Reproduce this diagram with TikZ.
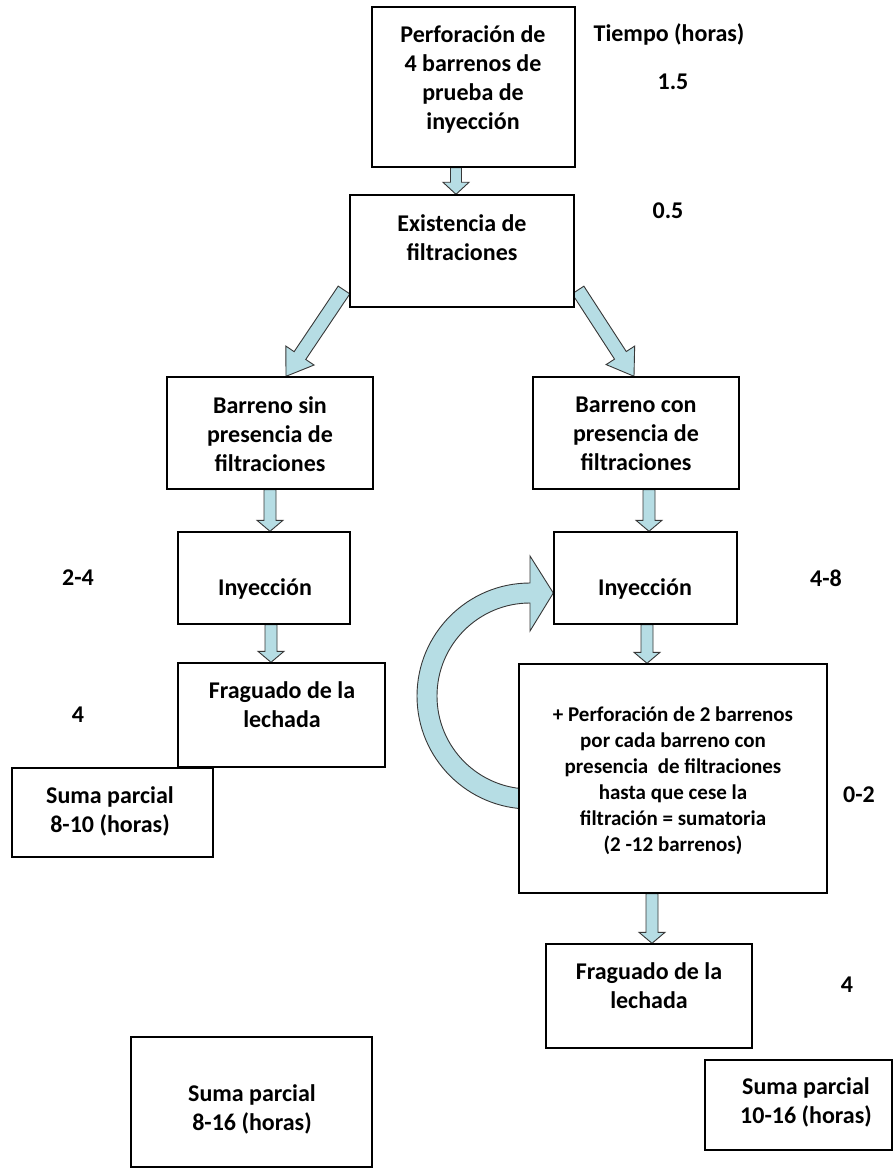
\documentclass[tikz,border=0pt]{standalone}
\usepackage{fontspec}
\setmainfont{Carlito}
\usetikzlibrary{calc}
\pgfdeclarelayer{bgzero}
\pgfdeclarelayer{back}
\pgfsetlayers{bgzero,back,main}
\definecolor{arrowfill}{RGB}{182,221,228}
\definecolor{arrowline}{RGB}{55,55,55}
\tikzset{
  box/.style={draw=black, line width=1.4pt, fill=white, inner sep=0pt},
  txt/.style={font=\fontsize{24}{29}\selectfont\bfseries, align=center, inner sep=0pt},
  smalltxt/.style={font=\fontsize{21}{26}\selectfont\bfseries, align=center, inner sep=0pt},
  blockarr/.style={fill=arrowfill, draw=arrowline, line width=0.9pt, line join=miter},
}
% #1 from, #2 to, #3 shaft half width, #4 head half width, #5 head length
\newcommand\myblockarrow[5]{%
  \path (#1) coordinate (ba) (#2) coordinate (bb);
  \path ($(bb)!#5!(ba)$) coordinate (bh);
  \draw[blockarr] ($(ba)!#3!90:(bb)$) -- ($(bh)!#3!-90:(ba)$) -- ($(bh)!#4!-90:(ba)$)
     -- (bb) -- ($(bh)!#4!90:(ba)$) -- ($(bh)!#3!90:(ba)$) -- ($(ba)!#3!-90:(bb)$) -- cycle;
}
\begin{document}
\begin{tikzpicture}[x=1pt, y=-1pt]
\useasboundingbox (0,0) rectangle (893,1169);
\begin{pgfonlayer}{bgzero}
  \fill[white] (0,0) rectangle (893,1169);
\end{pgfonlayer}

% boxes
\node[box, minimum width=203pt, minimum height=160pt] (b1) at (473.5,87) {};
\node[box, minimum width=224pt, minimum height=112pt] (b2) at (462,251) {};
\node[box, minimum width=206pt, minimum height=112pt] (bs) at (270,433) {};
\node[box, minimum width=206pt, minimum height=112pt] (bc) at (636,433) {};
\node[box, minimum width=172pt, minimum height=92pt] (il) at (264,578) {};
\node[box, minimum width=183pt, minimum height=92pt] (ir) at (645.5,578) {};
\node[box, minimum width=308pt, minimum height=229pt] (big) at (673,778.5) {};
\node[box, minimum width=207pt, minimum height=104pt] (fl) at (281.5,715) {};
\node[box, minimum width=201pt, minimum height=89pt] (s1) at (112.5,812.5) {};
\node[box, minimum width=206pt, minimum height=104pt] (fr) at (649,996) {};
\node[box, minimum width=187pt, minimum height=90pt] (s3) at (798.5,1105) {};
\node[box, minimum width=241pt, minimum height=130pt] (s2) at (251.5,1102) {};

% texts in boxes
\node[txt] (t1) at (473,79) {Perforación de\\4 barrenos de\\prueba de\\inyección};
\node[txt] (t2) at (462,238) {Existencia de\\filtraciones};
\node[txt] (ts) at (270,434) {Barreno sin\\presencia de\\filtraciones};
\node[txt] (tc) at (636,434) {Barreno con\\presencia de\\filtraciones};
\node[txt] (til) at (265,589) {Inyección};
\node[txt] (tir) at (645,589) {Inyección};
\node[smalltxt] (tbig) at (673,781) {+ Perforación de 2 barrenos\\por cada barreno con\\presencia~ de filtraciones\\hasta que cese la\\filtración = sumatoria\\(2 -12 barrenos)};
\node[txt] (tfl) at (282,705) {Fraguado de la\\lechada};
\node[txt] (tfr) at (649,986) {Fraguado de la\\lechada};
\node[txt] (ts1) at (110,811) {Suma parcial\\8-10 (horas)};
\node[txt] (ts3) at (806,1102) {Suma parcial\\10-16 (horas)};
\node[txt] (ts2) at (252,1109) {Suma parcial\\8-16 (horas)};

% time labels
\node[txt] (tiempo) at (669,34) {Tiempo (horas)};
\node[txt] (h1) at (673,82) {1.5};
\node[txt] (h2) at (668,211) {0.5};
\node[txt] (h3) at (78,578) {2-4};
\node[txt] (h4) at (826,578) {4-8};
\node[txt] (h5) at (78,715) {4};
\node[txt] (h6) at (859,795) {0-2};
\node[txt] (h7) at (847,985) {4};

\coordinate (dlt) at (344,290);
\coordinate (drt) at (578,290);

\begin{pgfonlayer}{back}
  \myblockarrow{456,0 |- b1.south}{456,0 |- b2.north}{5.5pt}{13pt}{12pt}
  \myblockarrow{dlt}{286,0 |- bs.north}{7pt}{17pt}{25pt}
  \myblockarrow{drt}{634,0 |- bc.north}{7pt}{17pt}{25pt}
  \myblockarrow{270,0 |- bs.south}{270,0 |- il.north}{6pt}{13pt}{11pt}
  \myblockarrow{649,0 |- bc.south}{649,0 |- ir.north}{6pt}{13pt}{11pt}
  \myblockarrow{271,0 |- il.south}{271,0 |- fl.north}{6pt}{13pt}{11pt}
  \myblockarrow{647,0 |- ir.south}{647,0 |- big.north}{6pt}{13pt}{11pt}
  \myblockarrow{652,0 |- big.south}{652,0 |- fr.north}{6pt}{13pt}{11pt}
  % loop arrow from the big box back to Inyeccion
  \draw[blockarr] (530,809) arc[start angle=90, end angle=270, radius=113]
     -- (530,556) -- (ir.west |- 0,593) -- (530,631) -- (530,603)
     arc[start angle=270, end angle=90, radius=93] -- cycle;
\end{pgfonlayer}
\end{tikzpicture}
\end{document}
